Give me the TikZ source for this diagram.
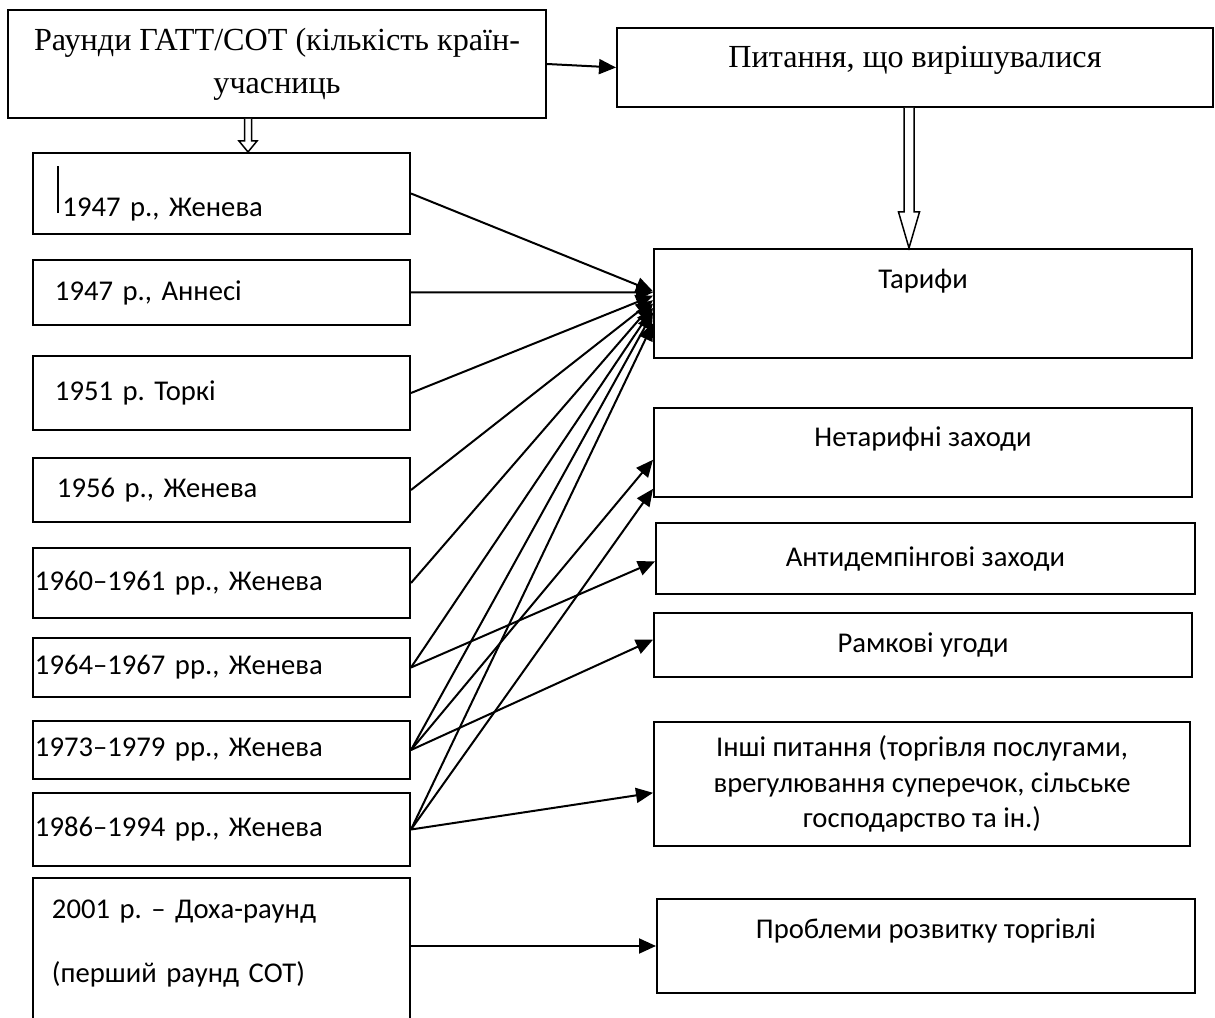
\documentclass[tikz,border=0pt]{standalone}
\usepackage{fontspec}
\setmainfont{Liberation Serif}
\newfontfamily\calfont{Carlito}
\usetikzlibrary{arrows.meta,calc}
\frenchspacing

\begin{document}
\begin{tikzpicture}[x=0.2mm, y=-0.2mm,
  roundbox/.style={draw, line width=0.4mm, inner xsep=0pt, text width=75.4mm, align=left,
    minimum height=#1*0.2mm, font=\calfont\fontsize{16.3}{20.4}\selectfont},
  issuebox/.style={draw, line width=0.4mm, align=center, font=\calfont\fontsize{16.3}{20.4}\selectfont},
  headbox/.style={draw, line width=0.4mm, align=center, font=\fontsize{18.3}{24.4}\selectfont},
  arr/.style={line width=0.4mm, -{Triangle[length=3.4mm, width=3mm]}},
  hollow/.style={draw, line width=0.3mm, fill=white}]
  % 1 unit = 1 px of the sheet (1215 x 1018), y runs downwards
  \def\pxl{0.2mm}
  \useasboundingbox (0,0) rectangle (1215,1018);
  \clip (0,0) rectangle (1215,1018);

  % Header boxes
  \node[headbox, minimum width=538*\pxl, minimum height=108*\pxl] (gatt) at (277,64)
    {Раунди ГАТТ/СОТ (кількість країн-\\учасниць};
  \node[headbox, minimum width=596*\pxl, minimum height=79*\pxl, text depth=4.4mm] (issues) at (915,67.5)
    {Питання, що вирішувалися};
  \draw[arr] (gatt.east) -- (issues.west);

  % Rounds (left column)
  \node[roundbox=81] (r1) at (221.5,193.5)
    {\hspace*{4.9mm}\rule[0.6mm]{0.3mm}{9.4mm}\hspace{0.7mm}1947 р., Женева};
  \node[roundbox=65] (r2) at (221.5,292.5) {\hspace*{4.4mm}1947 р., Аннесі};
  \node[roundbox=74] (r3) at (221.5,393) {\hspace*{4.4mm}1951 р. Торкі};
  \node[roundbox=64] (r4) at (221.5,490) {\hspace*{4.8mm}1956 р., Женева};
  \node[roundbox=70] (r5) at (221.5,583) {\hspace*{0.4mm}1960–1961 рр., Женева};
  \node[roundbox=59] (r6) at (221.5,667.5) {\hspace*{0.4mm}1964–1967 рр., Женева};
  \node[roundbox=58] (r7) at (221.5,750) {\hspace*{0.4mm}1973–1979 рр., Женева};
  \node[roundbox=73] (r8) at (221.5,829.5) {\hspace*{0.4mm}1986–1994 рр., Женева};
  \node[roundbox=162] (r9) at (221.5,959)
    {\hspace*{3.8mm}2001 р. – Доха-раунд\\[5.5mm]\hspace*{3.8mm}(перший раунд СОТ)\\\mbox{}};

  % Issues (right column)
  \node[issuebox, minimum width=538*\pxl, minimum height=109*\pxl, text depth=9.8mm] (tariffs) at (923,303.5)
    {Тарифи};
  \node[issuebox, minimum width=538*\pxl, minimum height=89*\pxl, text depth=6.2mm] (nontariff) at (923,452.5)
    {Нетарифні заходи};
  \node[issuebox, minimum width=539*\pxl, minimum height=71*\pxl] (antidump) at (925.5,558.5)
    {Антидемпінгові заходи};
  \node[issuebox, minimum width=538*\pxl, minimum height=64*\pxl] (framework) at (923,645)
    {Рамкові угоди};
  \node[issuebox, minimum width=536*\pxl, minimum height=124*\pxl] (other) at (922,784)
    {Інші питання (торгівля послугами,\\врегулювання суперечок, сільське\\господарство та ін.)};
  \node[issuebox, minimum width=538*\pxl, minimum height=94*\pxl, text depth=6.8mm] (devel) at (926,946)
    {Проблеми розвитку торгівлі};

  % Open arrows
  \coordinate (s1) at ($(gatt.south)+(-29,0)$);
  \coordinate (s2) at (s1 |- r1.north);
  \draw[hollow] ($(s1)+(-3.5,0)$) -- ($(s2)+(-3.5,-11)$) -- ($(s2)+(-9,-11)$) -- (s2)
    -- ($(s2)+(9,-11)$) -- ($(s2)+(3.5,-11)$) -- ($(s1)+(3.5,0)$);
  \coordinate (q1) at ($(issues.south)+(-6,0)$);
  \coordinate (q2) at (q1 |- tariffs.north);
  \draw[hollow] ($(q1)+(-5,0)$) -- ($(q2)+(-5,-36)$) -- ($(q2)+(-10.5,-36)$) -- (q2)
    -- ($(q2)+(10.5,-36)$) -- ($(q2)+(5,-36)$) -- ($(q1)+(5,0)$);

  % Every round to the tariffs
  \foreach \from/\pos in {r1/.39, r2/.40, r3/.43, r4/.47, r5/.50, r6/.54, r7/.58, r8/.68}
    \draw[arr] (\from.east) -- ($(tariffs.north west)!\pos!(tariffs.south west)$);

  % Other links
  \draw[arr] (r6.east) -- ($(antidump.north west)!.54!(antidump.south west)$);
  \draw[arr] (r7.east) -- ($(nontariff.north west)!.58!(nontariff.south west)$);
  \draw[arr] (r7.east) -- ($(framework.north west)!.42!(framework.south west)$);
  \draw[arr] (r8.east) -- ($(nontariff.north west)!.9!(nontariff.south west)$);
  \draw[arr] (r8.east) -- ($(other.north west)!.57!(other.south west)$);
  \draw[arr] (r9.east |- devel.west) -- (devel.west);

\end{tikzpicture}
\end{document}
